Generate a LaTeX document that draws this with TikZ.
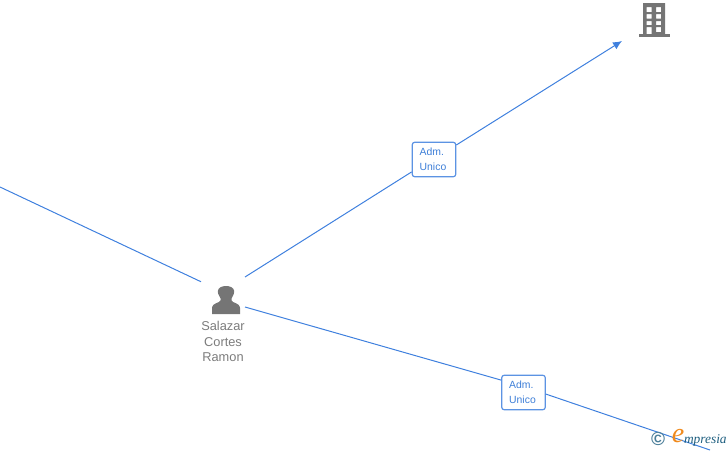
\documentclass[tikz,border=0pt]{standalone}
\usepackage{fontspec}
\usetikzlibrary{arrows.meta}
\setmainfont{Liberation Sans}
\newfontfamily\logofont{Liberation Serif}
\definecolor{linkblue}{HTML}{3F80DE}
\definecolor{labelblue}{HTML}{3E7FD8}
\definecolor{icongray}{HTML}{757575}
\definecolor{logoteal}{HTML}{1F5F80}
\definecolor{logoorange}{HTML}{F08A1D}
\tikzset{
  link/.style={draw=linkblue,line width=1pt},
  role/.style={draw=linkblue!85,line width=1.2pt,rounded corners=2.5pt,fill=white,
    minimum width=43.5pt,minimum height=34.5pt,inner sep=0pt,
    text=labelblue},
  roletext/.style={anchor=west,inner sep=0pt,align=left,text=labelblue,font=\fontsize{10.4}{15}\selectfont},
  anchorbox/.style={inner sep=0pt,outer sep=0pt},
  iconfill/.style={fill=icongray,draw=none},
}
\begin{document}
\begin{tikzpicture}[x=1pt,y=-1pt]
\useasboundingbox (0,0) rectangle (728,450);
% invisible link boxes
\node[anchorbox,minimum width=44pt,minimum height=30pt] (person) at (223,292) {};
\node[anchorbox,minimum width=65pt,minimum height=38pt] (building) at (654.5,22) {};
\coordinate (leftend) at (0,187);
\coordinate (rightend) at (710,450);
% role boxes
\node[role] (roleA) at (434,159.5) {};
\node[roletext] (roleAtext) at (419.5,159.5) {Adm.\\Unico};
\node[role] (roleB) at (523.5,392.5) {};
\node[roletext] (roleBtext) at (509,392.5) {Adm.\\Unico};
% connectors
\draw[link] (leftend) -- (person.155.6);
\draw[link] (person.north east) -- (roleA.209.6);
\draw[link,-{Latex[length=9pt,width=8pt]}] (roleA.33.4) -- (building.south west);
\draw[link] (person.south east) -- (roleB.151.9);
\draw[link] (roleB.-4) -- (rightend);
% person icon
\path[iconfill] (212,314) -- (212,308) .. controls (212,305) and (215,303.5) .. (219,302)
  .. controls (220.5,301) and (221,300) .. (220.5,298.5)
  .. controls (218.5,296) and (217.5,292) .. (218,290.5)
  .. controls (218.5,287.5) and (222,286) .. (226,286)
  .. controls (230,286) and (233.5,287.5) .. (234,290.5)
  .. controls (234.5,292) and (233.5,296) .. (231.5,298.5)
  .. controls (231,300) and (231.5,301) .. (233,302)
  .. controls (237,303.5) and (240,305) .. (240,308) -- (240,314) -- cycle;
\node[anchorbox,text=icongray!95,align=center,font=\fontsize{12.8}{15.2}\selectfont] (name) at (223,341.5) {Salazar\\Cortes\\Ramon};
% building icon
\path[iconfill,even odd rule] (643,3) rectangle (665,34)
  (646.5,7) rectangle (651.5,12) (656,7) rectangle (661,12)
  (646.5,14) rectangle (651.5,18.5) (656,14) rectangle (661,18.5)
  (646.5,21) rectangle (651.5,25) (656,21) rectangle (661,25)
  (646.5,27) rectangle (651.5,34) (656,27) rectangle (661,32);
\path[iconfill] (638.5,34) rectangle (669.5,36.5);
% logo
\node[anchorbox,text=logoteal!80,font=\bfseries\fontsize{19}{19}\selectfont] (copy) at (658,439) {©};
\node[anchorbox,text=logoorange,font=\logofont\itshape\fontsize{28}{28}\selectfont] (logoe) at (678,436) {e};
\node[anchorbox,text=logoteal,anchor=base west,font=\logofont\itshape\fontsize{13.4}{14}\selectfont] (logotext) at (684,443) {mpresia};
\end{tikzpicture}
\end{document}
